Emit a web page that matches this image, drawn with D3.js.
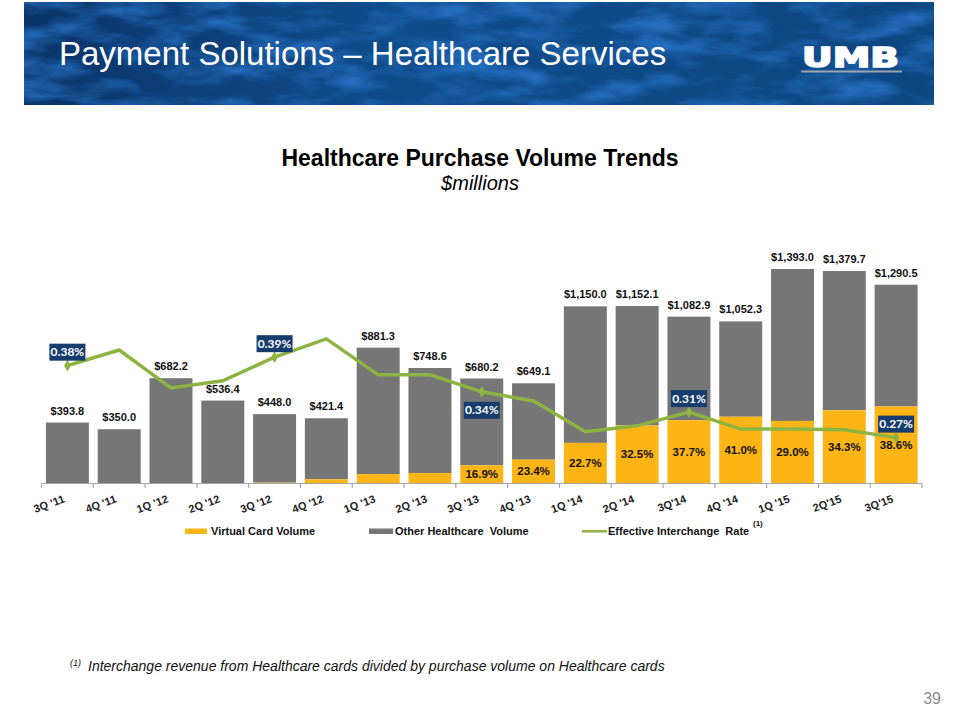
<!DOCTYPE html>
<html lang="en">
<head>
<meta charset="utf-8">
<title>Healthcare Purchase Volume Trends</title>
<script src="https://cdnjs.cloudflare.com/ajax/libs/d3/7.8.5/d3.min.js"></script>
<style>
  body { margin: 0; background: #fff; }
  svg { display: block; font-family: "Liberation Sans", Arial, sans-serif; }
</style>
</head>
<body>
<script>
// quarters on the x axis
var quarters = ["3Q '11", "4Q '11", "1Q '12", "2Q '12", "3Q '12", "4Q '12", "1Q '13", "2Q '13",
                "3Q '13", "4Q '13", "1Q '14", "2Q '14", "3Q'14", "4Q '14", "1Q '15", "2Q'15", "3Q'15"];
// total healthcare purchase volume, $millions
var totals = [393.8, 350.0, 682.2, 536.4, 448.0, 421.4, 881.3, 748.6,
              680.2, 649.1, 1150.0, 1152.1, 1082.9, 1052.3, 1393.0, 1379.7, 1290.5];
// virtual card share of total, % (early values)
var virtualPct = [0, 0, 0, 0, 0.5, 5.7, 6.6, 8.7,
                  16.9, 23.4, 22.7, 32.5, 37.7, 41.0, 29.0, 34.3, 38.6];
// effective interchange rate, %
var rate = [0.380, 0.404, 0.346, 0.357, 0.393, 0.421, 0.366, 0.366,
            0.340, 0.326, 0.279, 0.288, 0.309, 0.283, 0.283, 0.282, 0.270];
// quarters whose rate gets a callout box
var rateCallouts = [0, 4, 8, 12, 16];
var legendItems = ["Virtual Card Volume", "Other Healthcare  Volume", "Effective Interchange  Rate"];

var w = 960, h = 720;
var yellow = "#fdb515", grey = "#767676", green = "#8db443", navy = "#163d6d";

var svg = d3.select("body").append("svg").attr("width", w).attr("height", h);

// ---- banner
var defs = svg.append("defs");
var grad = defs.append("linearGradient").attr("id", "bannerGrad")
  .attr("x1", 0).attr("y1", 0).attr("x2", 1).attr("y2", 0);
grad.append("stop").attr("offset", "0%").attr("stop-color", "#0a3468");
grad.append("stop").attr("offset", "40%").attr("stop-color", "#0f4c8c");
grad.append("stop").attr("offset", "100%").attr("stop-color", "#0d4680");

var f = defs.append("filter").attr("id", "texture")
  .attr("x", 0).attr("y", 0).attr("width", 1).attr("height", 1)
  .attr("color-interpolation-filters", "sRGB");
f.append("feTurbulence").attr("type", "fractalNoise")
  .attr("baseFrequency", "0.016 0.05").attr("numOctaves", 4).attr("seed", 7);
f.append("feColorMatrix").attr("type", "matrix")
  .attr("values", "0 0 0 0 0.16  0 0 0 0 0.45  0 0 0 0 0.78  2.6 0 0 0 -1.05");
f.append("feComposite").attr("in2", "SourceGraphic").attr("operator", "in");

svg.append("rect").attr("x", 24).attr("y", 2).attr("width", 910).attr("height", 103)
  .attr("fill", "url(#bannerGrad)");
svg.append("rect").attr("x", 24).attr("y", 2).attr("width", 910).attr("height", 103)
  .attr("fill", "#fff").attr("filter", "url(#texture)").attr("opacity", 0.85);

svg.append("text").attr("x", 59).attr("y", 65)
  .attr("fill", "#fff").attr("font-size", "33px")
  .text("Payment Solutions \u2013 Healthcare Services");

svg.append("text").attr("x", 802).attr("y", 67)
  .attr("fill", "#fff").attr("stroke", "#fff").attr("stroke-width", 1.6)
  .attr("font-family", "DejaVu Sans, sans-serif")
  .attr("font-weight", "bold").attr("font-size", "27px")
  .attr("textLength", 97).attr("lengthAdjust", "spacingAndGlyphs")
  .text("UMB");
svg.append("rect").attr("x", 801).attr("y", 70.5).attr("width", 101).attr("height", 2)
  .attr("fill", "#9aa4b0");

// ---- titles
svg.append("text").attr("x", 480).attr("y", 166).attr("text-anchor", "middle")
  .attr("font-weight", "bold").attr("font-size", "23px").attr("fill", "#000")
  .text("Healthcare Purchase Volume Trends");
svg.append("text").attr("x", 480).attr("y", 190).attr("text-anchor", "middle")
  .attr("font-style", "italic").attr("font-size", "20px").attr("fill", "#000")
  .text("$millions");

// ---- scales
var x = d3.scaleBand().domain(quarters).range([41.5, 922]).paddingInner(0.17).paddingOuter(0.085);
var y = d3.scaleLinear().domain([0, 1600]).range([483, 237.2]);
var yRate = d3.scaleLinear().domain([0.20, 0.45]).range([483.4, 319.9]);

var data = quarters.map(function (q, i) {
  return { q: q, i: i, total: totals[i], virt: totals[i] * virtualPct[i] / 100, pct: virtualPct[i], rate: rate[i] };
});

// ---- bars
var g = svg.append("g");
g.selectAll("rect.other").data(data).enter().append("rect")
  .attr("class", "other")
  .attr("x", function (d) { return x(d.q); })
  .attr("width", x.bandwidth())
  .attr("y", function (d) { return y(d.total); })
  .attr("height", function (d) { return y(d.virt) - y(d.total); })
  .attr("fill", grey);

g.selectAll("rect.virt").data(data).enter().append("rect")
  .attr("class", "virt")
  .attr("x", function (d) { return x(d.q); })
  .attr("width", x.bandwidth())
  .attr("y", function (d) { return y(d.virt); })
  .attr("height", function (d) { return y(0) - y(d.virt); })
  .attr("fill", yellow);

// total labels
g.selectAll("text.total").data(data).enter().append("text")
  .attr("class", "total")
  .attr("x", function (d) { return x(d.q) + x.bandwidth() / 2; })
  .attr("y", function (d) { return y(d.total) - 8; })
  .attr("text-anchor", "middle").attr("font-weight", "bold").attr("font-size", "11px")
  .attr("fill", "#111")
  .text(function (d) { return "$" + d3.format(",.1f")(d.total); });

// virtual card share labels
g.selectAll("text.pct").data(data.filter(function (d) { return d.pct > 10; })).enter().append("text")
  .attr("class", "pct")
  .attr("x", function (d) { return x(d.q) + x.bandwidth() / 2; })
  .attr("y", function (d) { return (y(0) + y(d.virt)) / 2; })
  .attr("dy", "0.36em")
  .attr("text-anchor", "middle").attr("font-weight", "bold").attr("font-size", "11.5px")
  .attr("fill", "#111")
  .text(function (d) { return d.pct.toFixed(1) + "%"; });

// ---- x axis
var ax = svg.append("g");
ax.append("line").attr("x1", 41.5).attr("x2", 922).attr("y1", 483.5).attr("y2", 483.5)
  .attr("stroke", "#a6a6a6").attr("stroke-width", 1.2);
var bounds = quarters.map(function (q) { return x(q) - x.step() * x.paddingInner() / 2; });
bounds.push(922);
ax.selectAll("line.tick").data(bounds).enter().append("line")
  .attr("class", "tick")
  .attr("x1", function (d) { return d; }).attr("x2", function (d) { return d; })
  .attr("y1", 483).attr("y2", 488)
  .attr("stroke", "#a6a6a6").attr("stroke-width", 1.2);
ax.selectAll("text").data(quarters).enter().append("text")
  .attr("transform", function (q) {
    return "translate(" + (x(q) + x.bandwidth() / 2 - 2) + ",502) rotate(-20)";
  })
  .attr("text-anchor", "end").attr("font-weight", "bold").attr("font-size", "11px")
  .attr("fill", "#222")
  .text(function (q) { return q; });

// ---- rate line
var line = d3.line()
  .x(function (d) { return x(d.q) + x.bandwidth() / 2; })
  .y(function (d) { return yRate(d.rate); });
svg.append("path").datum(data).attr("d", line)
  .attr("fill", "none").attr("stroke", green).attr("stroke-width", 3.5)
  .attr("stroke-linejoin", "miter");

var callouts = data.filter(function (d) { return rateCallouts.indexOf(d.i) >= 0; });
svg.selectAll("path.marker").data(callouts).enter().append("path")
  .attr("class", "marker")
  .attr("d", d3.symbol().type(d3.symbolDiamond).size(40))
  .attr("transform", function (d) {
    return "translate(" + (x(d.q) + x.bandwidth() / 2) + "," + yRate(d.rate) + ")";
  })
  .attr("fill", green);

var box = svg.selectAll("g.callout").data(callouts).enter().append("g")
  .attr("class", "callout")
  .attr("transform", function (d) {
    var cx = x(d.q) + x.bandwidth() / 2, cy = yRate(d.rate);
    // 3Q'13 box sits under the line, the rest above it
    var top = d.i === 8 ? cy + 10 : cy - 22;
    return "translate(" + cx + "," + top + ")";
  });
box.append("rect").attr("x", -18).attr("y", 0).attr("width", 36).attr("height", 17)
  .attr("fill", navy);
box.append("text").attr("x", 0).attr("y", 12.5).attr("text-anchor", "middle")
  .attr("font-family", "Lato, sans-serif").attr("font-weight", "bold").attr("font-size", "12px")
  .attr("fill", "#fff")
  .text(function (d) { return d.rate.toFixed(2) + "%"; });

// ---- legend
var lg = svg.append("g").attr("font-weight", "bold").attr("font-size", "11px").attr("fill", "#111");
lg.append("rect").attr("x", 185).attr("y", 528.5).attr("width", 22).attr("height", 5.5).attr("fill", yellow);
lg.append("text").attr("x", 211).attr("y", 535).text(legendItems[0]);
lg.append("rect").attr("x", 369).attr("y", 528.5).attr("width", 24).attr("height", 5.5).attr("fill", grey);
lg.append("text").attr("x", 395).attr("y", 535).attr("xml:space", "preserve").text(legendItems[1]);
lg.append("line").attr("x1", 582).attr("x2", 607).attr("y1", 531.3).attr("y2", 531.3)
  .attr("stroke", green).attr("stroke-width", 2.5);
lg.append("text").attr("x", 608).attr("y", 535).attr("xml:space", "preserve").text(legendItems[2]);
lg.append("text").attr("x", 753).attr("y", 526).attr("font-size", "8px").text("(1)");

// ---- footnote and page number
svg.append("text").attr("x", 70).attr("y", 666).attr("font-style", "italic")
  .attr("font-size", "9px").attr("fill", "#111").text("(1)");
svg.append("text").attr("x", 88).attr("y", 671).attr("font-style", "italic")
  .attr("font-size", "14px").attr("fill", "#111")
  .text("Interchange revenue from Healthcare cards divided by purchase volume on Healthcare cards");
svg.append("text").attr("x", 941).attr("y", 704).attr("text-anchor", "end")
  .attr("font-size", "16px").attr("fill", "#8c8c8c").text("39");
</script>
</body>
</html>
